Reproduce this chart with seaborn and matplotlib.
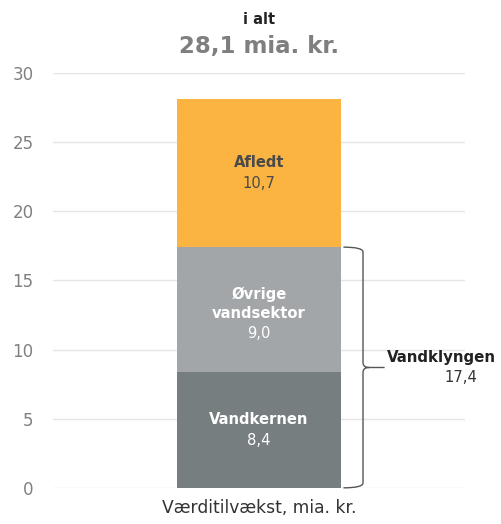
import matplotlib
matplotlib.use("Agg")
import matplotlib.pyplot as plt
import numpy as np
import pandas as pd
import seaborn as sns
from matplotlib.path import Path
from matplotlib.patches import PathPatch

# data
category = "Værditilvækst, mia. kr."
segments = ["Vandkernen", "Øvrige\nvandsektor", "Afledt"]
values = [8.4, 9.0, 10.7]
seg_colors = ["#767e80", "#a2a6a9", "#fbb341"]
label_colors = ["white", "white", "#4a4a4a"]
cluster_name = "Vandklyngen"
cluster_parts = 2  # first two segments form the cluster
yticks = [0, 5, 10, 15, 20, 25, 30]


def fmt(v):
    return f"{v:.1f}".replace(".", ",")


sns.set_theme(style="white")
plt.rcParams["font.family"] = ["DejaVu Sans"]

fig = plt.figure(figsize=(5.01, 5.24), dpi=100)
ax = fig.add_axes([0.106, 0.069, 0.822, 0.792])

tops = np.cumsum(values)
bottoms = tops - np.array(values)
df = pd.DataFrame({"cat": [category] * len(values), "top": tops, "seg": segments})

# draw cumulative totals from the top down so every segment shows
for i in reversed(range(len(values))):
    sns.barplot(data=df.iloc[[i]], x="cat", y="top", color=seg_colors[i],
                saturation=1, width=0.8, errorbar=None, ax=ax, zorder=2,
                linewidth=0)

ax.set_xlim(-1, 1)
ax.set_ylim(0, 30)
ax.set_yticks(yticks)
ax.set_yticklabels([str(t) for t in yticks], color="#808080", fontsize=12)
ax.tick_params(axis="y", length=0, pad=14)
ax.set_xticks([])
ax.set_xlabel(category, fontsize=12.3, color="#333333", labelpad=8)
ax.set_ylabel("")
ax.grid(axis="y", color="#e5e5e5", linewidth=1.0, zorder=0)
ax.set_axisbelow(True)
for s in ax.spines.values():
    s.set_visible(False)

# segment labels
line_h = 20.5
for i, (name, v) in enumerate(zip(segments, values)):
    mid = bottoms[i] + v / 2
    n_lines = name.count("\n") + 1
    off = -(n_lines - 1) * line_h / 2
    ax.annotate(name, (0, mid), xytext=(0, off + 2), textcoords="offset points",
                ha="center", va="bottom", fontsize=10.6, fontweight="bold",
                color=label_colors[i], linespacing=1.35)
    ax.annotate(fmt(v), (0, mid), xytext=(0, off - 2), textcoords="offset points",
                ha="center", va="top", fontsize=10.6, color=label_colors[i])

# brace around the cluster
y1 = tops[cluster_parts - 1]
y0 = 0.0
ym = (y0 + y1) / 2
x0, x1, xt = 0.41, 0.505, 0.61
r = 0.35
d = 0.03
verts = [(x0, y1), (x1, y1), (x1, y1 - r),
         (x1, ym + r),
         (x1, ym), (x1 + d, ym),
         (xt, ym),
         (x1 + d, ym),
         (x1, ym), (x1, ym - r),
         (x1, y0 + r),
         (x1, y0), (x0, y0)]
codes = [Path.MOVETO, Path.CURVE3, Path.CURVE3,
         Path.LINETO,
         Path.CURVE3, Path.CURVE3,
         Path.LINETO,
         Path.MOVETO,
         Path.CURVE3, Path.CURVE3,
         Path.LINETO,
         Path.CURVE3, Path.CURVE3]
ax.add_patch(PathPatch(Path(verts, codes), facecolor="none", edgecolor="#555555",
                       linewidth=1.0, clip_on=False, zorder=3))
ax.annotate(cluster_name, (xt, ym), xytext=(2, 2), textcoords="offset points",
            ha="left", va="bottom", fontsize=10.8, fontweight="bold", color="#222222",
            annotation_clip=False)
ax.annotate(fmt(y1), (xt, ym), xytext=(55, -2), textcoords="offset points",
            ha="center", va="top", fontsize=10.6, color="#333333",
            annotation_clip=False)

# title
fig.text(0.518, 0.963, "i alt", ha="center", va="center", fontsize=10.5,
         fontweight="bold", color="#222222")
fig.text(0.518, 0.911, f"{fmt(sum(values))} mia. kr.", ha="center", va="center",
         fontsize=16.5, fontweight="bold", color="#7f7f7f")

fig.savefig("out.png", dpi=100)
